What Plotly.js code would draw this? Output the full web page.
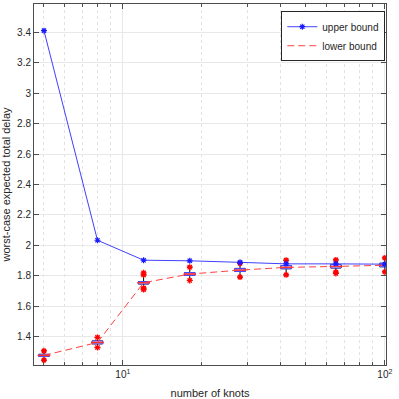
<!DOCTYPE html>
<html>
<head>
<meta charset="utf-8">
<script src="https://cdn.plot.ly/plotly-3.0.1.min.js"></script>
<style>
  html, body { margin: 0; padding: 0; background: #fff; }
  #chart { width: 399px; height: 399px; }
</style>
</head>
<body>
<div id="chart"></div>
<script>
const knots = [5, 8, 12, 18, 28, 42, 65, 100];
const upperBound = [3.41, 2.034, 1.903, 1.899, 1.889, 1.879, 1.879, 1.877];
const lowerBound = [1.278, 1.363, 1.755, 1.812, 1.838, 1.856, 1.862, 1.870];

// box statistics of the sampled delays at each knot count
const q1 = [1.271, 1.354, 1.747, 1.803, 1.829, 1.847, 1.852, 1.860];
const q3 = [1.285, 1.373, 1.762, 1.822, 1.849, 1.868, 1.874, 1.883];
const lowFence = [1.247, 1.330, 1.720, 1.770, 1.792, 1.807, 1.818, 1.826];
const highFence = [1.308, 1.396, 1.807, 1.857, 1.882, 1.903, 1.905, 1.918];

// outliers (red stars)
const outX = [5, 5, 8, 8, 12, 12, 12, 12, 18, 18, 28, 28, 42, 42, 65, 65, 65, 100, 100];
const outY = [1.308, 1.247, 1.396, 1.330, 1.820, 1.807, 1.720, 1.710, 1.857, 1.770,
              1.882, 1.792, 1.903, 1.807, 1.905, 1.825, 1.816, 1.918, 1.826];

const gridCol = '#e8e8e8';
const axisCol = '#4d4d4d';
const textCol = '#262626';

const traces = [
  {
    // whiskers (black)
    type: 'box', x: knots, q1: q1, median: lowerBound, q3: q3,
    lowerfence: lowFence, upperfence: highFence,
    line: { color: 'black', width: 1 }, fillcolor: 'rgba(0,0,0,0)',
    whiskerwidth: 0.5, width: 0.04, boxpoints: false,
    showlegend: false, hoverinfo: 'skip'
  },
  {
    // the boxes (blue)
    type: 'box', x: knots, q1: q1, median: lowerBound, q3: q3,
    lowerfence: q1, upperfence: q3,
    line: { color: '#4a4aff', width: 1 }, fillcolor: 'rgb(236,228,252)',
    whiskerwidth: 0, width: 0.04, boxpoints: false,
    showlegend: false, hoverinfo: 'skip'
  },
  {
    x: knots, y: lowerBound, mode: 'markers', type: 'scatter',
    marker: { symbol: 'line-ew-open', size: 9, color: '#ff3030', line: { width: 1.5 } },
    showlegend: false, hoverinfo: 'skip'
  },
  {
    x: outX, y: outY, mode: 'markers', type: 'scatter',
    marker: { symbol: 'asterisk-open', size: 5, color: '#ff0000', line: { width: 1.3 } },
    showlegend: false, hoverinfo: 'skip'
  },
  {
    name: 'upper bound', x: knots, y: upperBound, mode: 'lines+markers', type: 'scatter',
    line: { color: '#4040ff', width: 1 },
    marker: { symbol: 'asterisk-open', size: 5, color: '#1a1aff', line: { width: 1.2 } }
  },
  {
    name: 'lower bound', x: knots, y: lowerBound, mode: 'lines', type: 'scatter',
    line: { color: '#ff4040', width: 1, dash: '7px,4px' }
  }
];

const layout = {
  width: 399, height: 399,
  margin: { l: 34, r: 13, t: 4, b: 34 },
  paper_bgcolor: '#fff', plot_bgcolor: '#fff',
  font: { family: 'Liberation Sans, Arial, sans-serif', size: 10, color: textCol },
  boxmode: 'overlay',
  showlegend: true,
  legend: {
    x: 0.998, y: 0.98, xanchor: 'right', yanchor: 'top',
    bgcolor: '#fff', bordercolor: textCol, borderwidth: 1,
    font: { size: 10, color: textCol }, tracegroupgap: 0, itemwidth: 30
  },
  xaxis: {
    type: 'log', range: [Math.log10(4.58), Math.log10(101)],
    tickvals: [10, 100], ticktext: ['10<sup>1</sup>', '10<sup>2</sup>'],
    ticks: 'inside', ticklen: 5, tickcolor: axisCol,
    showgrid: true, gridcolor: gridCol, gridwidth: 1,
    minor: {
      tickvals: [5, 6, 7, 8, 9, 20, 30, 40, 50, 60, 70, 80, 90],
      ticks: 'inside', ticklen: 3, tickcolor: axisCol,
      showgrid: true, gridcolor: '#e2e2e2', griddash: 'dot', gridwidth: 1
    },
    showline: true, linecolor: axisCol, linewidth: 1, mirror: 'allticks',
    zeroline: false,
    tickfont: { size: 10, color: textCol },
    title: { text: 'number of knots', font: { size: 11, color: textCol }, standoff: 10 }
  },
  yaxis: {
    range: [1.215, 3.585],
    tickvals: [1.4, 1.6, 1.8, 2, 2.2, 2.4, 2.6, 2.8, 3, 3.2, 3.4],
    ticktext: ['1.4', '1.6', '1.8', '2', '2.2', '2.4', '2.6', '2.8', '3', '3.2', '3.4'],
    ticks: 'inside', ticklen: 5, tickcolor: axisCol,
    showgrid: true, gridcolor: gridCol, gridwidth: 1,
    showline: true, linecolor: axisCol, linewidth: 1, mirror: 'allticks',
    zeroline: false,
    tickfont: { size: 10, color: textCol },
    title: { text: 'worst-case expected total delay', font: { size: 11, color: textCol }, standoff: 6 }
  }
};

Plotly.newPlot('chart', traces, layout, { displayModeBar: false, staticPlot: true });
</script>
</body>
</html>
